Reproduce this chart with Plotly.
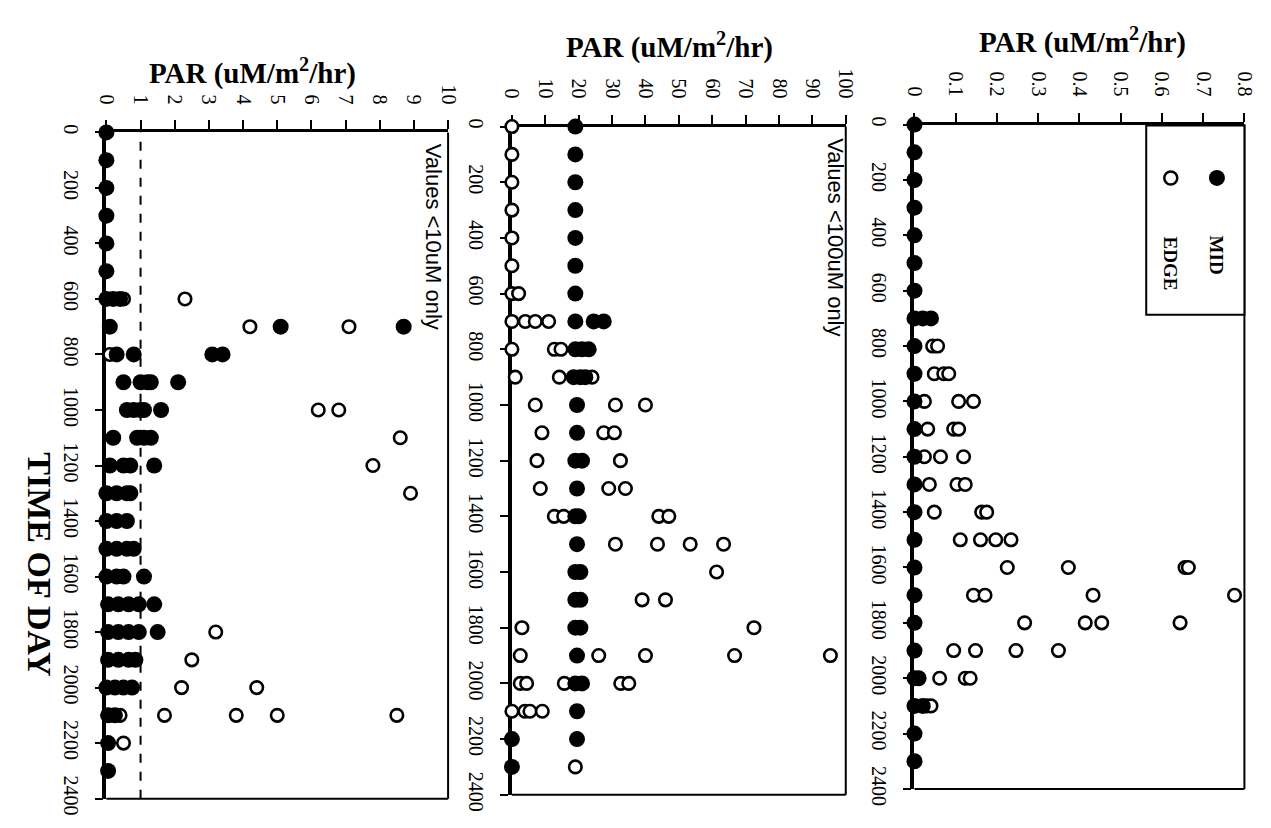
import plotly.graph_objects as go

# ---------------- DATA (time of day -> PAR readings) ----------------
hours = [0, 100, 200, 300, 400, 500, 600, 700, 800, 900, 1000, 1100,
         1200, 1300, 1400, 1500, 1600, 1700, 1800, 1900, 2000, 2100, 2200, 2300]

# Panel 1: values < 10 uM only
p1_mid = {0: [0], 100: [0], 200: [0], 300: [0], 400: [0], 500: [0],
          600: [0, 0.2, 0.4], 700: [0.1, 5.1, 8.7], 800: [0.3, 0.8, 3.1, 3.4],
          900: [0.5, 1.0, 1.2, 1.3, 2.1], 1000: [0.6, 0.8, 1.0, 1.1, 1.6],
          1100: [0.2, 0.9, 1.1, 1.3], 1200: [0.1, 0.5, 0.7, 1.4],
          1300: [0, 0.3, 0.6, 0.7], 1400: [0, 0.3, 0.6], 1500: [0, 0.3, 0.6, 0.8],
          1600: [0, 0.3, 0.5, 1.1], 1700: [0.05, 0.35, 0.65, 0.95, 1.4],
          1800: [0.05, 0.35, 0.65, 0.95, 1.5], 1900: [0.05, 0.35, 0.65, 0.85],
          2000: [0, 0.25, 0.5, 0.75], 2100: [0.05, 0.25], 2200: [0.05], 2300: [0.05]}
p1_edge = {600: [0.5, 2.3], 700: [4.2, 7.1], 800: [0.1], 1000: [6.2, 6.8],
           1100: [8.6], 1200: [7.8], 1300: [8.9], 1800: [3.2], 1900: [2.5],
           2000: [2.2, 4.4], 2100: [0.4, 1.7, 3.8, 5.0, 8.5], 2200: [0.5]}
p1_threshold = 1

# Panel 2: values < 100 uM only
p2_mid = {0: [19], 100: [19], 200: [19], 300: [19], 400: [19], 500: [19], 600: [19],
          700: [19, 24.5, 27.5], 800: [19, 21, 23], 900: [18.5, 20.5, 22],
          1000: [19.5], 1100: [19.5], 1200: [19, 21], 1300: [19.5], 1400: [19, 20],
          1500: [19.5], 1600: [19, 20.5], 1700: [19, 20.5], 1800: [19, 20.5],
          1900: [19.5], 2000: [19, 21], 2100: [19.5], 2200: [0, 19.5], 2300: [0]}
p2_edge = {0: [0], 100: [0], 200: [0], 300: [0], 400: [0], 500: [0], 600: [0, 2],
           700: [0, 4, 7, 11], 800: [0, 12.7, 14.7], 900: [1, 14.2, 24],
           1000: [7, 31, 40], 1100: [9, 27.5, 30.7], 1200: [7.5, 32.5],
           1300: [8.5, 29, 34], 1400: [12.7, 15.5, 44, 47], 1500: [31, 43.6, 53.4, 63.4],
           1600: [61.3], 1700: [39, 46], 1800: [3, 72.5], 1900: [2.5, 26, 40, 66.7, 95.4],
           2000: [2.5, 4.4, 15.7, 32.6, 35], 2100: [0, 3.9, 5.4, 9.1], 2300: [19]}

# Panel 3: all values
p3_mid = {h: [0] for h in hours}
p3_mid.update({700: [0, 0.02, 0.04], 2000: [0, 0.01], 2100: [0, 0.02]})
p3_edge = {800: [0.044, 0.056], 900: [0.048, 0.071, 0.083], 1000: [0.024, 0.107, 0.143],
           1100: [0.032, 0.095, 0.107], 1200: [0.024, 0.063, 0.119],
           1300: [0.036, 0.103, 0.123], 1400: [0.048, 0.163, 0.175],
           1500: [0.111, 0.16, 0.197, 0.234], 1600: [0.225, 0.373, 0.656, 0.664],
           1700: [0.143, 0.171, 0.433, 0.776], 1800: [0.267, 0.414, 0.454, 0.644],
           1900: [0.095, 0.148, 0.246, 0.349], 2000: [0.061, 0.123, 0.135],
           2100: [0.03, 0.04]}

par_ranges = [[0, 10], [0, 100], [0, 0.8]]
par_dticks = [1, 10, 0.1]
time_range = [2400, 0]
time_dtick = 200
panel_notes = ["Values <10uM only", "Values <100uM only", None]
legend_names = ["MID", "EDGE"]

# ---------------- LAYOUT GEOMETRY (pixels in a 1271x828 page) ----------------
W, H = 1271, 828
panels_px = [(89, 437, 120, 807), (502, 842, 114, 803), (912, 1248, 112, 797)]
titles_px = [(238, 57), (662, 30), (1083, 25)]
notes_px = [(423, 228), (832, 228), None]

SERIF = "Liberation Serif, Times New Roman, serif"
SANS = "Liberation Sans, Arial, sans-serif"


def px(x, y):
    return x / W, 1 - y / H


def flatten(d):
    ts, vs = [], []
    for t, vals in d.items():
        for v in vals:
            ts.append(t)
            vs.append(v)
    return ts, vs


fig = go.Figure()
series = [(p1_mid, p1_edge), (p2_mid, p2_edge), (p3_mid, p3_edge)]

for i, (mid, edge) in enumerate(series):
    n = "" if i == 0 else str(i + 1)
    et, ev = flatten(edge)
    mt, mv = flatten(mid)
    fig.add_trace(go.Scatter(x=ev, y=et, mode="markers", name="EDGE",
                             xaxis="x" + n, yaxis="y" + n, cliponaxis=False,
                             marker=dict(symbol="circle", size=12.5, color="white",
                                         line=dict(color="black", width=2.6))))
    fig.add_trace(go.Scatter(x=mv, y=mt, mode="markers", name="MID",
                             xaxis="x" + n, yaxis="y" + n, cliponaxis=False,
                             marker=dict(symbol="circle", size=16, color="black",
                                         line=dict(width=0))))

layout = dict(width=W, height=H, margin=dict(l=0, r=0, t=0, b=0),
              paper_bgcolor="white", plot_bgcolor="white", showlegend=False)
shapes, annotations = [], []

for i, (x0, x1, y0, y1) in enumerate(panels_px):
    n = "" if i == 0 else str(i + 1)
    dx0, dy1 = px(x0, y0)
    dx1, dy0 = px(x1, y1)
    layout["xaxis" + n] = dict(
        domain=[dx0, dx1], range=par_ranges[i], dtick=par_dticks[i], tick0=0,
        anchor="y" + n, side="top", ticks="outside", ticklen=9, tickwidth=2,
        tickcolor="black", tickangle=90, showline=True, linewidth=3,
        linecolor="black", showgrid=False, zeroline=False, layer="below traces",
        ticklabelstandoff=9,
        tickfont=dict(family=SERIF, size=20, color="black"))
    layout["yaxis" + n] = dict(
        domain=[dy0, dy1], range=time_range, dtick=time_dtick, tick0=0,
        anchor="x" + n, ticks="outside", ticklen=8, tickwidth=2,
        tickcolor="black", tickangle=90, showline=True, linewidth=3.5,
        linecolor="black", showgrid=False, zeroline=False, layer="below traces",
        ticklabelstandoff=7,
        tickfont=dict(family=SERIF, size=20, color="black"))
    # right and bottom frame lines
    xr, yr = "x" + n + " domain", "y" + n + " domain"
    shapes.append(dict(type="line", xref=xr, yref=yr, x0=1, x1=1, y0=0, y1=1,
                       line=dict(color="black", width=2)))
    shapes.append(dict(type="line", xref=xr, yref=yr, x0=0, x1=1, y0=0, y1=0,
                       line=dict(color="black", width=2)))
    tx, ty = px(*titles_px[i])
    annotations.append(dict(
        text="<b>PAR (uM/m<sup>2</sup>/hr)</b>",
        x=tx, y=ty, xref="paper", yref="paper", showarrow=False,
        xanchor="center", yanchor="middle",
        font=dict(family=SERIF, size=29, color="black")))
    if panel_notes[i]:
        nx, ny = px(*notes_px[i])
        annotations.append(dict(text=panel_notes[i], x=nx, y=ny, xref="paper",
                                yref="paper", showarrow=False, textangle=90,
                                xanchor="center", yanchor="middle",
                                font=dict(family=SANS, size=22, color="black")))

# dashed threshold line in panel 1
shapes.append(dict(type="line", xref="x", yref="y domain", x0=p1_threshold,
                   x1=p1_threshold, y0=0, y1=1,
                   line=dict(color="black", width=2, dash="dash")))

# legend box (rotated) in panel 3
lx0, ly1 = px(1148, 113)
lx1, ly0 = px(1248, 308)
shapes.append(dict(type="rect", xref="paper", yref="paper", x0=lx0, x1=lx1,
                   y0=ly0, y1=ly1, line=dict(color="black", width=2),
                   fillcolor="white", layer="above"))
for (cx, cy), filled in [((1220, 167), True), ((1173, 167), False)]:
    ax, ay = px(cx, cy)
    r = 8 if filled else 6.5
    shapes.append(dict(type="circle", xref="paper", yref="paper",
                       xsizemode="pixel", ysizemode="pixel", xanchor=ax, yanchor=ay,
                       x0=-r, x1=r, y0=-r, y1=r, layer="above",
                       fillcolor="black" if filled else "white",
                       line=dict(color="black", width=0 if filled else 2.5)))
for name, (cx, cy) in zip(legend_names, [(1220, 247), (1173, 255)]):
    ax, ay = px(cx, cy)
    annotations.append(dict(text="<b>%s</b>" % name, x=ax, y=ay, xref="paper",
                            yref="paper", showarrow=False, textangle=90,
                            xanchor="center", yanchor="middle",
                            font=dict(family=SERIF, size=19, color="black")))

# TIME OF DAY label
tx, ty = px(20, 565)
annotations.append(dict(text="<b>TIME OF DAY</b>", x=tx, y=ty, xref="paper",
                        yref="paper", showarrow=False, textangle=90,
                        xanchor="center", yanchor="middle",
                        font=dict(family=SERIF, size=34, color="black")))

layout["shapes"] = shapes
layout["annotations"] = annotations
fig.update_layout(**layout)
fig.write_html("out.html")
